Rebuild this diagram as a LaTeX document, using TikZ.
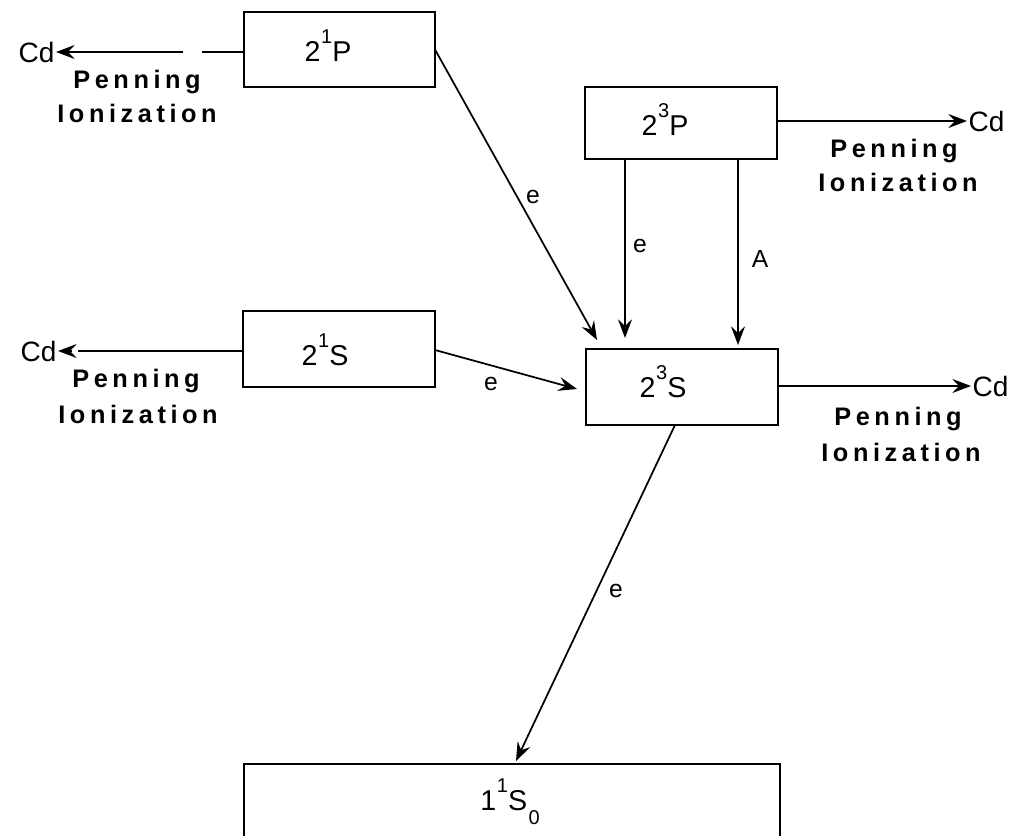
\documentclass[tikz,border=0pt]{standalone}
\usepackage{fontspec}
\setmainfont{Liberation Sans}
\newfontfamily\penfont[LetterSpace=18]{Liberation Sans}
\usetikzlibrary{arrows.meta}
\newcommand\upx[1]{\kern0.5pt\raisebox{0.62em}{\fontsize{15}{15}\selectfont #1}}
\newcommand\dnx[1]{\kern1pt\raisebox{-0.5em}{\fontsize{15}{15}\selectfont #1}}
\begin{document}
\begin{tikzpicture}[x=0.75pt,y=-0.75pt,
  lvl/.style={draw,line width=1.5pt,rectangle,inner sep=0pt,outer sep=0pt},
  lvltext/.style={anchor=base,inner sep=0pt,font=\fontsize{21.5}{24}\selectfont},
  pen/.style={anchor=base,inner sep=0pt,font=\penfont\bfseries\fontsize{19}{22}\selectfont},
  cd/.style={inner sep=1pt,font=\fontsize{21}{22}\selectfont},
  lab/.style={anchor=base,inner sep=0pt,font=\fontsize{18.5}{20}\selectfont},
  arr/.style={line width=1.3pt,-{Stealth[length=14pt,width=10.5pt,inset=5pt]}}
]
\useasboundingbox (0,0) rectangle (1022,836);
% level boxes
\node[lvl,minimum width=143.25pt,minimum height=56.25pt] (b21P) at (339.5,49.5) {};
\node[lvl,minimum width=144pt,minimum height=57pt] (b21S) at (339,349) {};
\node[lvl,minimum width=144pt,minimum height=54pt] (b23P) at (681,123) {};
\node[lvl,minimum width=144pt,minimum height=57pt] (b23S) at (682,387) {};
\node[lvl,minimum width=402pt,minimum height=102pt] (b11S) at (512,832) {};
% level texts
\node[lvltext] (t21P) at (328,61) {2\upx{1}P};
\node[lvltext] (t21S) at (325,365) {2\upx{1}S};
\node[lvltext] (t23P) at (665,135) {2\upx{3}P};
\node[lvltext] (t23S) at (663,397) {2\upx{3}S};
\node[lvltext] (t11S) at (510,810) {1\upx{1}S\dnx{0}};
% Cd end points
\node[cd,anchor=east] (cdA) at (56,52) {Cd};
\node[cd,anchor=east] (cdB) at (58,351) {Cd};
\node[cd,anchor=west] (cdC) at (967,121) {Cd};
\node[cd,anchor=west] (cdD) at (971,386) {Cd};
% Penning Ionization labels
\node[pen] (pA1) at (137,88) {Penning};
\node[pen] (pA2) at (137,122) {Ionization};
\node[pen] (pB1) at (136,387) {Penning};
\node[pen] (pB2) at (138,423) {Ionization};
\node[pen] (pC1) at (894,157) {Penning};
\node[pen] (pC2) at (898,191) {Ionization};
\node[pen] (pD1) at (898,425) {Penning};
\node[pen] (pD2) at (901,461) {Ionization};
% process labels
\node[lab] (e1) at (533,203) {e};
\node[lab] (e2) at (640,252) {e};
\node[lab] (aA) at (760,267) {A};
\node[lab] (e3) at (491,390) {e};
\node[lab] (e4) at (616,597) {e};
% Penning arrows
\draw[arr,dash pattern=on 31.5pt off 14pt on 300pt] ([shift={(0,2.5)}]b21P.west) -- (cdA.east);
\draw[arr,dash pattern=on 124pt off 4pt on 300pt] ([shift={(0,2)}]b21S.west) -- (cdB.east);
\draw[arr] ([shift={(0,-2)}]b23P.east) -- (cdC.west);
\draw[arr] ([shift={(0,-1)}]b23S.east) -- (cdD.west);
% transitions
\draw[arr] (b21P.east) -- ([shift={(11,-9)}]b23S.north west);
\draw[arr] ([shift={(40,0)}]b23P.south west) -- ([shift={(39,-11)}]b23S.north west);
\draw[arr] ([shift={(153,0)}]b23P.south west) -- ([shift={(152,-4)}]b23S.north west);
\draw[arr] ([shift={(0,1)}]b21S.east) -- ([shift={(-9,2)}]b23S.west);
\draw[arr] ([shift={(-7,0)}]b23S.south) -- ([shift={(272,-3)}]b11S.north west);
\end{tikzpicture}
\end{document}
